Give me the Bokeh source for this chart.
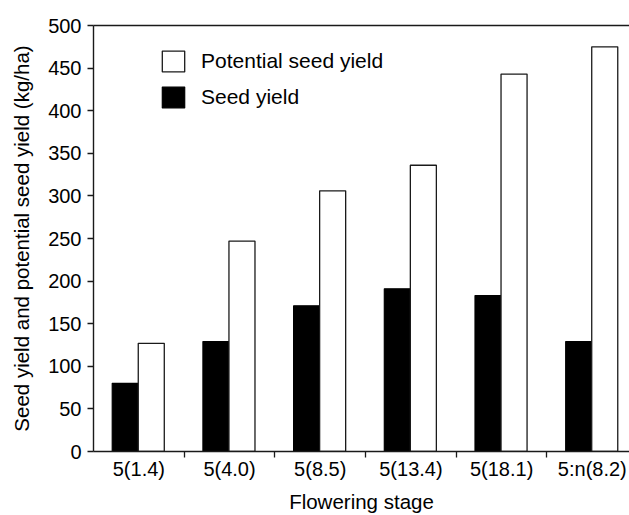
from bokeh.plotting import figure
from bokeh.models import (Range1d, FixedTicker, LinearAxis, Legend, LegendItem,
                          ColumnDataSource)
from bokeh.embed import file_html
from bokeh.resources import INLINE

# Flowering stages (x categories) and yields in kg/ha
stages = ["5(1.4)", "5(4.0)", "5(8.5)", "5(13.4)", "5(18.1)", "5:n(8.2)"]
seed_yield = [80, 129, 171, 191, 183, 129]
potential_seed_yield = [127, 247, 306, 336, 443, 475]
y_ticks = [0, 50, 100, 150, 200, 250, 300, 350, 400, 450, 500]

FONT = "Liberation Sans"
INK = "#1a1a1a"
BAR_W = 0.287
X_END = 5.91           # last category runs past the right edge

idx = list(range(len(stages)))
centers = [i + 0.5 for i in idx]
boundaries = [i for i in idx[1:]]

src = ColumnDataSource(dict(
    x_seed=[i + 0.35 for i in idx],
    x_pot=[i + 0.637 for i in idx],
    seed=seed_yield,
    pot=potential_seed_yield,
))

p = figure(width=629, height=515, output_backend="svg", toolbar_location=None,
           x_range=Range1d(0, X_END), y_range=Range1d(0, 500),
           min_border_left=93, min_border_right=0, min_border_top=25,
           min_border_bottom=63, x_axis_type=None, y_axis_type=None)
p.outline_line_color = None
p.grid.visible = False
p.background_fill_color = "white"
p.border_fill_color = "white"

r_seed = p.vbar(x="x_seed", top="seed", width=BAR_W, source=src,
                fill_color="black", line_color="black", line_width=1.2)
r_pot = p.vbar(x="x_pot", top="pot", width=BAR_W, source=src,
               fill_color="white", line_color=INK, line_width=1.3)

# bottom axis: labels at category centres, ticks on category boundaries
xaxis = LinearAxis(ticker=FixedTicker(ticks=centers, minor_ticks=boundaries),
                   major_label_overrides={c: s for c, s in zip(centers, stages)})
xaxis.axis_label = "Flowering stage"
xaxis.major_tick_line_color = None
xaxis.major_tick_out = 0
xaxis.major_tick_in = 0
xaxis.minor_tick_out = 6
xaxis.minor_tick_in = 0
xaxis.minor_tick_line_color = INK
xaxis.minor_tick_line_width = 1.3
xaxis.major_label_standoff = 0
xaxis.axis_label_standoff = 7
xaxis.axis_label_text_line_height = 0.9
p.add_layout(xaxis, "below")

yaxis = LinearAxis(ticker=FixedTicker(ticks=y_ticks))
yaxis.axis_label = "Seed yield and potential seed yield (kg/ha)"
yaxis.major_tick_out = 6
yaxis.major_tick_in = 0
yaxis.minor_tick_line_color = None
yaxis.major_tick_line_color = INK
yaxis.major_tick_line_width = 1.3
yaxis.major_label_standoff = 6
yaxis.axis_label_standoff = 12
p.add_layout(yaxis, "left")

for ax in (xaxis, yaxis):
    ax.axis_line_color = INK
    ax.axis_line_width = 1.4
    ax.major_label_text_font = FONT
    ax.major_label_text_font_size = "20px"
    ax.major_label_text_color = "black"
    ax.axis_label_text_font = FONT
    ax.axis_label_text_font_size = "20.5px"
    ax.axis_label_text_font_style = "normal"
    ax.axis_label_text_color = "black"

# top spine
top = LinearAxis(ticker=FixedTicker(ticks=[]))
top.axis_line_color = INK
top.axis_line_width = 1.4
top.major_tick_line_color = None
top.minor_tick_line_color = None
top.major_label_text_font_size = "0px"
p.add_layout(top, "above")

legend = Legend(items=[LegendItem(label="Potential seed yield", renderers=[r_pot]),
                       LegendItem(label="Seed yield", renderers=[r_seed])],
                location=(66, 341), padding=0, margin=0, spacing=10,
                glyph_width=28, glyph_height=26, label_standoff=14,
                border_line_color=None, background_fill_alpha=0,
                label_text_font=FONT, label_text_font_size="21px",
                label_text_color="black")
p.add_layout(legend)

open("out.html", "w").write(file_html(p, INLINE))
